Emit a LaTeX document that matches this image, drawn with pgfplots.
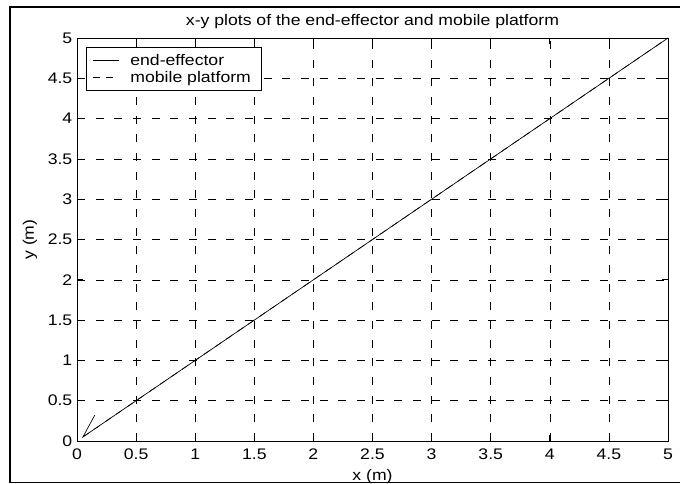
\documentclass[border=0pt]{standalone}
\usepackage{pgfplots}
\pgfplotsset{compat=1.18}
\usepackage{fontspec}
\setmainfont{Liberation Sans}[FakeStretch=1.15]
\newcommand\figfont{\fontsize{11.5}{13}\selectfont}
\begin{document}
\begin{tikzpicture}[x=0.75pt,y=0.75pt]
  % fixed page size: 680 x 484 px, axis box lower left at (0,0)
  \useasboundingbox (-77,-43) rectangle (603,441);
  % outer figure frame
  \draw[line width=1.3pt] (606,-41.5) -- (-67,-41.5) -- (-67,434) -- (606,434);
  \begin{axis}[
    at={(0,0)}, anchor=south west,
    scale only axis,
    width=443.25pt, height=302.25pt,
    xmin=0, xmax=5, ymin=0, ymax=5,
    xtick={0,0.5,...,5}, ytick={0,0.5,...,5},
    tick align=inside,
    major tick length=4.5pt,
    tick style={black, line width=0.5pt},
    axis line style={line width=0.6pt},
    grid=major,
    major grid style={black, line width=0.4pt, dash pattern=on 6pt off 8pt},
    /pgf/number format/assume math mode=true,
    tick label style={font=\figfont},
    xticklabel style={anchor=base, yshift=-13.5pt},
    title={x-y plots of the end-effector and mobile platform},
    % default title style adds yshift=6pt, cancelled here
    title style={font=\figfont, at={(axis description cs:0.5,1.031)},
      anchor=base, yshift=-6pt},
    xlabel={x (m)}, ylabel={y (m)},
    xlabel style={font=\figfont, at={(axis description cs:0.5,-0.0968)}, anchor=base},
    ylabel style={font=\figfont, at={(axis description cs:-0.0795,0.5)}, anchor=center},
    legend style={at={(0.0152,0.978)}, anchor=north west, draw=black,
      line width=0.6pt, fill=white, font=\figfont,
      inner sep=4.5pt, row sep=2pt,
      nodes={inner ysep=0.5pt, inner xsep=3pt}},
    legend cell align=left,
    legend image code/.code={\draw[#1] (0pt,0pt) -- (19.5pt,0pt); \path (25pt,0pt);},
  ]
    % end-effector
    \addplot[black, line width=0.5pt] coordinates {(0.15,0.32) (0.05,0.05) (5,5)};
    % mobile platform
    \addplot[black, line width=0.5pt, dash pattern=on 5.5pt off 4.5pt] coordinates {(0.05,0.05) (5,5)};
    \legend{end-effector, mobile platform}
  \end{axis}
\end{tikzpicture}
\end{document}
